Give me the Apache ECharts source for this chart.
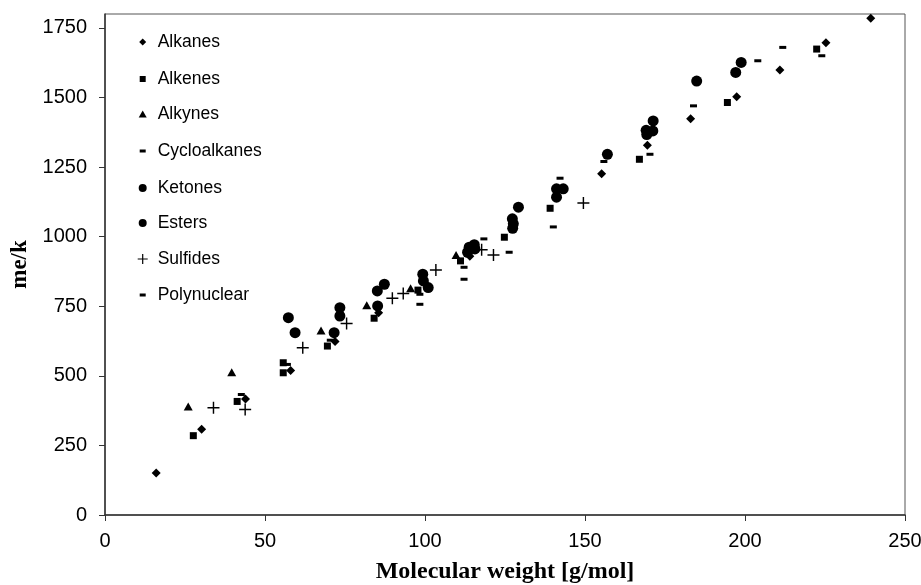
<!DOCTYPE html>
<html>
<head>
<meta charset="utf-8">
<script src="https://cdn.jsdelivr.net/npm/echarts@6/dist/echarts.min.js"></script>
<style>
  html, body { margin: 0; padding: 0; background: #fff; }
  #chart { width: 921px; height: 585px; }
</style>
</head>
<body>
<div id="chart"></div>
<script>
// [molecular weight, me/k]
const alkanes = [[16, 151], [30.2, 308], [43.9, 417], [58, 519], [71.9, 623], [85.5, 727], [114, 930],
  [155.2, 1226], [169.5, 1328], [183, 1424], [197.4, 1503], [210.9, 1599], [225.3, 1697], [239.3, 1785]];
const alkenes = [[27.6, 285], [41.3, 408], [55.7, 547], [55.7, 511], [69.5, 607], [84.1, 707], [97.8, 808],
  [111.1, 913], [124.8, 998], [139.1, 1102], [167, 1278], [194.5, 1482], [222.4, 1674]];
const alkynes = [[26, 390], [39.6, 513], [67.5, 663], [81.8, 754], [95.5, 815], [109.7, 934]];
const cycloalkanes = [[42.6, 433], [57, 541], [70.4, 628], [98.4, 793], [112.2, 890], [126.3, 944],
  [140.1, 1035], [155.9, 1270], [170.3, 1296], [183.9, 1470], [211.8, 1680], [224, 1650]];
const ketones = [[57.3, 709], [71.6, 655], [85.1, 805], [99.3, 865], [113.3, 944], [127.3, 1064],
  [141.1, 1142], [157, 1296], [169.1, 1382], [184.9, 1559], [197.1, 1590]];
const esters = [[59.4, 655], [73.4, 745], [73.4, 715], [85.2, 751], [87.3, 829], [99.5, 841], [101, 817],
  [113.8, 962], [115.4, 971], [115.6, 956], [127.6, 1046], [127.4, 1030], [129.2, 1106], [141.1, 1172],
  [143.2, 1172], [169.3, 1367], [171.3, 1416], [171.2, 1380], [198.8, 1626]];
const sulfides = [[33.9, 385], [43.8, 379], [61.8, 601], [75.5, 688], [89.8, 779], [93.2, 796], [103.4, 880],
  [117.7, 953], [121.4, 934], [149.5, 1121]];
const polynuclear = [[98.4, 757], [112.2, 847], [118.4, 992], [142.2, 1210], [204, 1632]];

const xTicks = { min: 0, max: 250, interval: 50 };
const yTicks = { min: 0, max: 1800, interval: 250 };

const plusPath = 'path://M0,4.4H10V5.6H0Z M4.4,0H5.6V10H4.4Z';

// name, data, symbol, size in plot, size in legend
const groups = [
  ['Alkanes', alkanes, 'diamond', [9, 9], [7, 7]],
  ['Alkenes', alkenes, 'rect', [7, 7], [6, 6]],
  ['Alkynes', alkynes, 'triangle', [9, 8], [8, 7]],
  ['Cycloalkanes', cycloalkanes, 'rect', [7, 3], [6, 3]],
  ['Ketones', ketones, 'circle', [11, 11], [8, 8]],
  ['Esters', esters, 'circle', [11, 11], [8, 8]],
  ['Sulfides', sulfides, plusPath, [12, 12], [10, 10]],
  ['Polynuclear', polynuclear, 'rect', [7, 3], [6, 3]],
];

const legendRows = [42, 79, 114, 151, 188, 223, 259, 295];

const chart = echarts.init(document.getElementById('chart'));

const option = {
  backgroundColor: '#fff',
  animation: false,
  grid: {
    left: 105,
    right: 16,
    top: 14,
    bottom: 70,
    containLabel: false,
    outerBoundsMode: 'none',
    show: true,
    borderColor: '#555',
    borderWidth: 1,
  },
  legend: groups.map((g, i) => ({
    orient: 'vertical',
    left: 142.7 - g[4][0] / 2,
    top: legendRows[i] - 10,
    padding: 0,
    itemWidth: g[4][0],
    itemHeight: g[4][1],
    selectedMode: false,
    data: [{ name: g[0], icon: g[2] }],
    textStyle: {
      fontFamily: 'Liberation Sans',
      fontSize: 17.5,
      color: '#000',
      lineHeight: 20,
      padding: [0, 0, 0, 15 - 5 - g[4][0] / 2],
    },
  })),
  xAxis: {
    type: 'value',
    min: xTicks.min,
    max: xTicks.max,
    interval: xTicks.interval,
    name: 'Molecular weight [g/mol]',
    nameLocation: 'middle',
    nameGap: 45,
    nameTextStyle: {
      fontFamily: 'Liberation Serif',
      fontWeight: 'bold',
      fontSize: 24,
      color: '#000',
    },
    splitLine: { show: false },
    axisLine: { lineStyle: { color: '#333', width: 1.5 } },
    axisTick: { inside: false, length: 6, lineStyle: { color: '#333' } },
    axisLabel: {
      margin: 16,
      fontFamily: 'Liberation Sans',
      fontSize: 20,
      color: '#000',
    },
  },
  yAxis: {
    type: 'value',
    min: yTicks.min,
    max: yTicks.max,
    interval: yTicks.interval,
    name: 'me/k',
    nameLocation: 'middle',
    nameGap: 72,
    nameTextStyle: {
      fontFamily: 'Liberation Serif',
      fontWeight: 'bold',
      fontSize: 23,
      color: '#000',
    },
    splitLine: { show: false },
    axisLine: { lineStyle: { color: '#333', width: 1.5 } },
    axisTick: { inside: false, length: 6, lineStyle: { color: '#333' } },
    axisLabel: {
      margin: 18,
      showMaxLabel: false,
      formatter: (v) => String(v),
      fontFamily: 'Liberation Sans',
      fontSize: 20,
      color: '#000',
    },
  },
  series: groups.map((g) => ({
    name: g[0],
    type: 'scatter',
    data: g[1],
    symbol: g[2],
    symbolSize: g[3],
    itemStyle: { color: '#000', opacity: 1 },
    emphasis: { disabled: true },
  })),
};

chart.setOption(option);
</script>
</body>
</html>
